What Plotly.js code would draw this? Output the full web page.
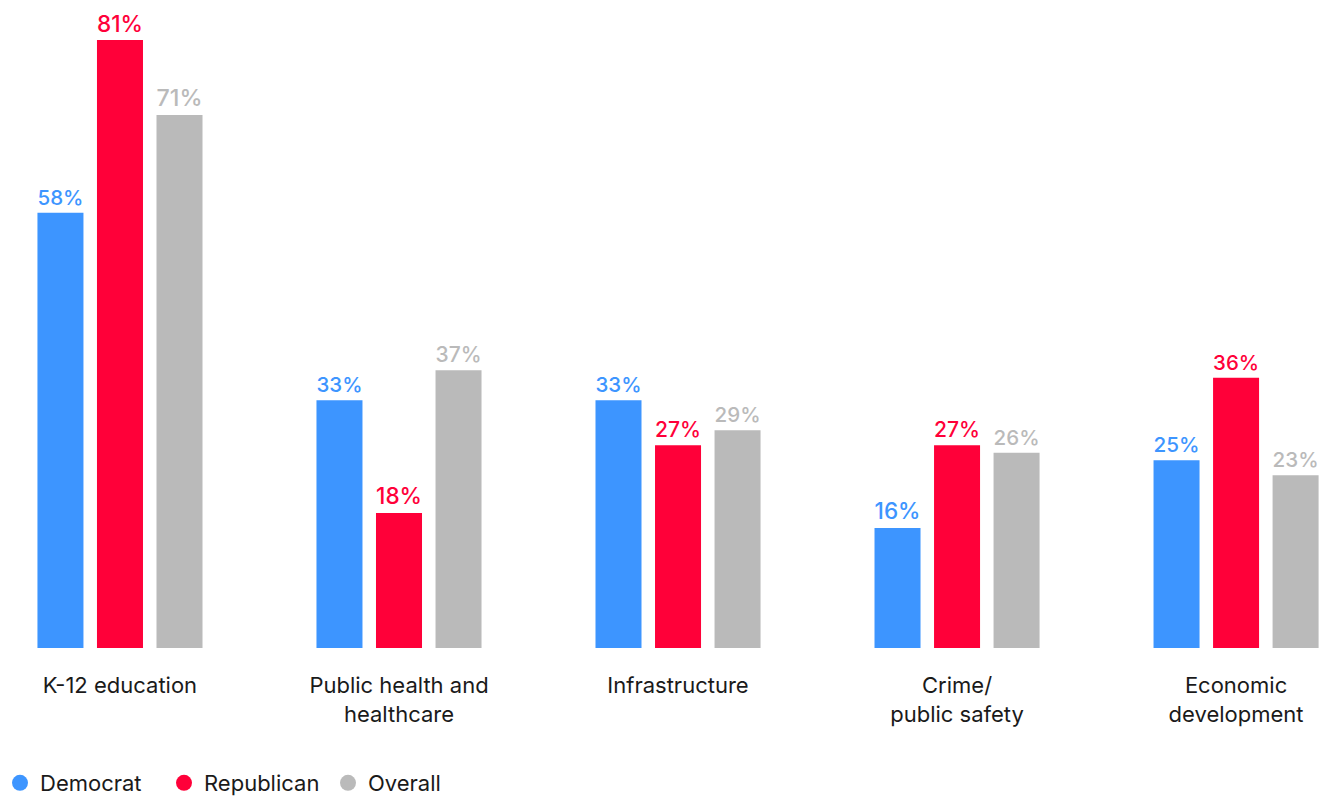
<!DOCTYPE html>
<html><head><meta charset="utf-8">
<script src="https://cdn.plot.ly/plotly-3.0.1.min.js"></script>
<style>html,body{margin:0;padding:0;background:#fff}#chart{width:1334px;height:796px}</style>
</head><body><div id="chart"></div>
<script>
const categories = ["K-12 education", "Public health and<br>healthcare", "Infrastructure", "Crime/<br>public safety", "Economic<br>development"];
const democrat = [58, 33, 33, 16, 25];
const republican = [81, 18, 27, 27, 36];
const overall = [71, 37, 29, 26, 23];
const seriesNames = ["Democrat", "Republican", "Overall"];
const colors = ["#3D95FF", "#FF0039", "#BABABA"];
const FONT = "Inter, 'Noto Sans', sans-serif";
const xs = categories.map((c, i) => i);
const series = [democrat, republican, overall];
const traces = series.map((vals, k) => ({
  type: 'bar', x: xs, y: vals, name: seriesNames[k],
  marker: {color: colors[k]},
  text: vals.map(v => v + '%'), textposition: 'outside',
  textfont: {color: colors[k], size: 25, family: FONT, weight: 500},
  cliponaxis: false, showlegend: false, hoverinfo: 'skip'
}));
seriesNames.forEach((n, k) => traces.push({
  type: 'scatter', mode: 'markers', x: [null], y: [null], name: n,
  marker: {color: colors[k], size: 20, symbol: 'circle'}, showlegend: true
}));
const layout = {
  width: 1334, height: 796,
  margin: {l: 0, r: 0, t: 0, b: 148},
  paper_bgcolor: '#fff', plot_bgcolor: '#fff',
  font: {family: FONT, color: '#1a1a1a', size: 22},
  barmode: 'group', bargap: 0.36, bargroupgap: 0.227,
  xaxis: {range: [-0.430, 4.351], tickvals: xs, ticktext: categories, showgrid: false, zeroline: false,
          showline: false, ticks: 'outside', ticklen: 18, tickcolor: 'rgba(0,0,0,0)', automargin: false,
          tickfont: {size: 22, family: FONT, color: '#1a1a1a'}, fixedrange: true},
  yaxis: {range: [0, 86.33], visible: false, showgrid: false, zeroline: false, fixedrange: true, automargin: false},
  legend: {orientation: 'h', xref: 'container', yref: 'container', x: 0, xanchor: 'left', y: 0.0163, yanchor: 'middle',
           font: {size: 22, family: FONT, color: '#1a1a1a'}, itemwidth: 30, tracegroupgap: 0,
           entrywidth: 119, entrywidthmode: 'pixels',
           bgcolor: 'rgba(0,0,0,0)'}
};
Plotly.newPlot('chart', traces, layout, {displayModeBar: false, staticPlot: true});
</script></body></html>
